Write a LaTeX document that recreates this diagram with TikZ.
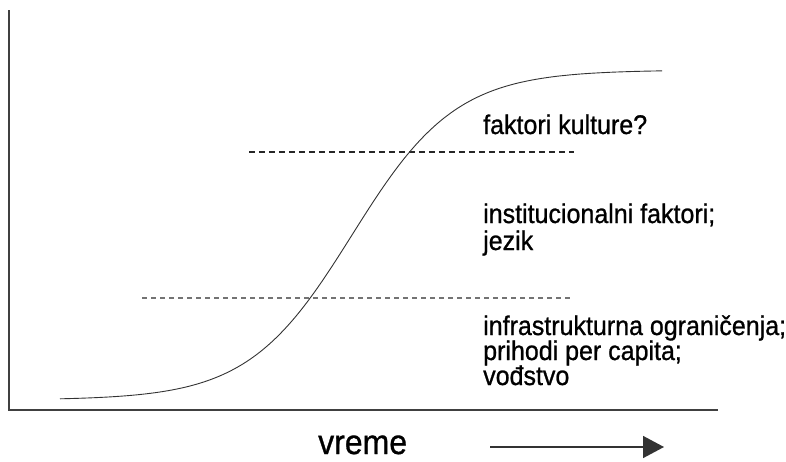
\documentclass[tikz,border=0pt]{standalone}
\usepackage{fontspec}
\setmainfont{Liberation Sans}
\newfontfamily\lblfont[FakeBold=0.9]{Liberation Sans}
\usetikzlibrary{arrows.meta}
\begin{document}
\begin{tikzpicture}[x=1pt,y=-1pt,
  lbl/.style={anchor=base west,inner sep=0pt,font=\lblfont\fontsize{25}{25}\selectfont},
  biglbl/.style={anchor=base west,inner sep=0pt,font=\lblfont\fontsize{32}{32}\selectfont},
  axisline/.style={draw=black!75,line width=2pt},
  dashtop/.style={draw=black!85,line width=1.6pt,dash pattern=on 6pt off 4pt},
  dashbot/.style={draw=black!55,line width=1.1pt,dash pattern=on 5pt off 4pt},
  curve/.style={draw=black!80,line width=0.9pt},
  timearrow/.style={draw=black!80,line width=1.5pt,-{Triangle[length=21pt,width=22pt]}}]
\useasboundingbox (0,0) rectangle (786,461);
% axes
\coordinate (top) at (9,10);
\coordinate (origin) at (9,410);
\coordinate (xend) at (718,410);
\draw[axisline] (top) -- (origin) -- (xend);
% dashed level lines
\coordinate (d1a) at (249,152);
\coordinate (d1b) at (574,152);
\coordinate (d2a) at (142,298);
\coordinate (d2b) at (570,298);
\draw[dashtop] (d1a) -- (d1b);
\draw[dashbot] (d2a) -- (d2b);
% S-curve
\draw[curve] plot[domain=60:662,samples=160,smooth] (\x,{400-330/(1+exp(-(\x-352)/52))});
% labels
\node[lbl] (kult) at (483,134) {\scalebox{1}[1.08]{faktori kulture?}};
\node[lbl] (inst) at (483,223) {\scalebox{1}[1.08]{institucionalni faktori;}};
\node[lbl] (jez) at (483,250) {\scalebox{1}[1.08]{jezik}};
\node[lbl] (infra) at (483,335) {\scalebox{1}[1.08]{infrastrukturna ograničenja;}};
\node[lbl] (prih) at (483,360) {\scalebox{1}[1.08]{prihodi per capita;}};
\node[lbl] (vod) at (483,385) {\scalebox{1}[1.08]{vođstvo}};
\node[biglbl] (vreme) at (318,454) {\scalebox{1}[1.08]{vreme}};
% time arrow
\coordinate (ta) at (490,447);
\coordinate (tb) at (664,447);
\draw[timearrow] (ta) -- (tb);
\end{tikzpicture}
\end{document}
